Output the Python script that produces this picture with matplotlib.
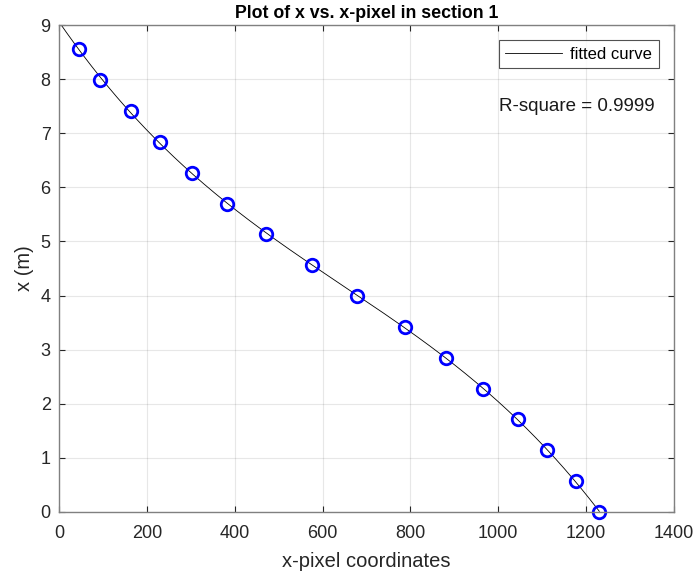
import numpy as np
import matplotlib
matplotlib.use("Agg")
import matplotlib.pyplot as plt

plt.rcParams['font.family'] = ['Liberation Sans', 'DejaVu Sans']

x_pixel = [46, 94, 163, 230, 303, 383, 471, 576, 679, 787, 881, 966, 1044, 1112, 1176, 1230]
x_m = [8.55, 7.98, 7.41, 6.84, 6.27, 5.70, 5.13, 4.56, 3.99, 3.42, 2.85, 2.28, 1.71, 1.14, 0.57, 0.0]
r_square_text = "R-square = 0.9999"

fig = plt.figure(figsize=(6.96, 5.79), dpi=100)
ax = fig.add_axes([59/696, 1-512/579, (674-59)/696, (512-25)/579])

coef = np.polyfit(x_pixel, x_m, 3)
xf = np.linspace(0, max(x_pixel), 400)
ax.plot(xf, np.polyval(coef, xf), color='black', lw=0.6, label='fitted curve')
ax.plot(x_pixel, x_m, 'o', mfc='none', mec=(0, 0, 1), mew=2.0, ms=9, clip_on=False)

ax.set_xlim(0, 1400)
ax.set_ylim(0, 9)
ax.set_xticks(range(0, 1401, 200))
ax.set_yticks(range(0, 10))
ax.grid(True, color=(0.15, 0.15, 0.15), alpha=0.11, lw=0.8)
ax.set_axisbelow(True)
for s in ax.spines.values():
    s.set_color((0.5, 0.5, 0.5))
    s.set_linewidth(1.0)
ax.tick_params(direction='in', length=4, width=0.8, colors=(0.15, 0.15, 0.15),
               labelsize=13, top=True, right=True)
ax.tick_params(axis='x', pad=9.5)
ax.tick_params(axis='y', pad=6)
ax.set_xlabel('x-pixel coordinates', fontsize=14.5, color=(0.15, 0.15, 0.15), labelpad=7)
ax.set_ylabel('x (m)', fontsize=14.5, color=(0.15, 0.15, 0.15), labelpad=5)
ax.set_title('Plot of x vs. x-pixel in section 1', fontsize=12.8, fontweight='bold', pad=5)

leg = ax.legend(loc='upper right', fontsize=12, frameon=True, fancybox=False,
                edgecolor=(0.15, 0.15, 0.15), handlelength=3.4, borderaxespad=0.9,
                borderpad=0.4, handletextpad=0.5)
leg.get_frame().set_linewidth(0.8)

ax.text(0.968, 0.833, r_square_text, transform=ax.transAxes, ha='right', va='center',
        fontsize=13.5, color=(0.1, 0.1, 0.1))

fig.savefig('out.png', dpi=100)
